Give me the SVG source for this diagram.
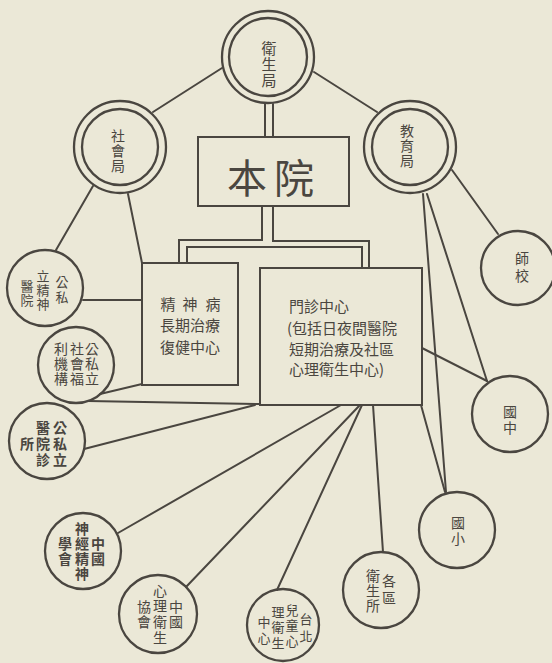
<svg xmlns="http://www.w3.org/2000/svg" width="552" height="663" viewBox="0 0 552 663">
<style>
.ln{fill:none;stroke:#4a4640;stroke-width:2;stroke-linecap:round;stroke-linejoin:miter}
.c{fill:none;stroke:#4a4640;stroke-width:2.3}
.bx{fill:none;stroke:#4a4640;stroke-width:2}
text{font-family:"Noto Sans CJK TC","Noto Sans CJK SC",sans-serif;fill:#4a4640;text-anchor:middle;dominant-baseline:central}
.s13{font-size:13px}
.s14{font-size:14px}
.s15{font-size:15px}
.b{font-weight:bold}
.lt{text-anchor:start}
</style>
<rect width="552" height="663" fill="#ebe8d7"/>
<g id="connectors">
<line class="ln" x1="153" y1="112" x2="222" y2="68"/>
<line class="ln" x1="314" y1="72" x2="377" y2="112"/>
<line class="ln" x1="265" y1="104" x2="265" y2="137"/>
<line class="ln" x1="273" y1="104" x2="273" y2="137"/>
<path class="ln" d="M262,206 V240 H179 V263"/>
<path class="ln" d="M273,206 V241 H369 V268"/>
<path class="ln" d="M187,263 V247 H362 V268"/>
<line class="ln" x1="93" y1="186" x2="56" y2="250"/>
<line class="ln" x1="128" y1="194" x2="142" y2="263"/>
<line class="ln" x1="452" y1="170" x2="498" y2="234"/>
<line class="ln" x1="423" y1="194" x2="446" y2="492"/>
<line class="ln" x1="427" y1="194" x2="487" y2="381"/>
<line class="ln" x1="422" y1="348" x2="487" y2="381"/>
<line class="ln" x1="421" y1="405" x2="445" y2="492"/>
<line class="ln" x1="83" y1="300" x2="142" y2="300"/>
<line class="ln" x1="100" y1="394" x2="142" y2="384"/>
<line class="ln" x1="88" y1="401" x2="260" y2="404"/>
<line class="ln" x1="84" y1="449" x2="255" y2="405"/>
<line class="ln" x1="118" y1="533" x2="341" y2="405"/>
<line class="ln" x1="186" y1="587" x2="360" y2="405"/>
<line class="ln" x1="277" y1="590" x2="362" y2="405"/>
<line class="ln" x1="373" y1="405" x2="383" y2="552"/>
</g>
<g id="weishengju">
<circle class="c" cx="268" cy="57" r="46"/>
<circle class="c" cx="268" cy="57" r="39"/>
<text class="s15" x="269" y="47">衛</text>
<text class="s15" x="269" y="63">生</text>
<text class="s15" x="269" y="79">局</text>
</g>
<g id="shehuiju">
<circle class="c" cx="120" cy="147" r="46"/>
<circle class="c" cx="120" cy="147" r="38"/>
<text class="s14" x="118" y="135">社</text>
<text class="s14" x="118" y="150">會</text>
<text class="s14" x="118" y="165">局</text>
</g>
<g id="jiaoyuju">
<circle class="c" cx="410" cy="147" r="46"/>
<circle class="c" cx="410" cy="147" r="38"/>
<text class="s14" x="407" y="130">教</text>
<text class="s14" x="407" y="145">育</text>
<text class="s14" x="407" y="160">局</text>
</g>
<g id="benyuan">
<rect class="bx" x="198" y="137" width="151" height="69"/>
<text x="247" y="176" font-size="40">本</text>
<text x="294" y="176" font-size="40">院</text>
</g>
<g id="rehab">
<rect class="bx" x="142" y="263" width="96" height="122"/>
<text class="s15" x="168" y="303">精</text>
<text class="s15" x="190" y="303">神</text>
<text class="s15" x="213" y="303">病</text>
<text class="s15 lt" x="160" y="324">長期治療</text>
<text class="s15 lt" x="160" y="346">復健中心</text>
</g>
<g id="clinic">
<rect class="bx" x="260" y="268" width="162" height="137"/>
<text class="s15 lt" x="289" y="305">門診中心</text>
<text class="s15 lt" x="287" y="327">(包括日夜間醫院</text>
<text class="s15 lt" x="289" y="348">短期治療及社區</text>
<text class="s15 lt" x="289" y="368">心理衛生中心)</text>
</g>
<g id="psych-hospital">
<circle class="c" cx="45" cy="288" r="38"/>
<text class="s13" x="62" y="281">公</text>
<text class="s13" x="62" y="296">私</text>
<text class="s13" x="43" y="275">立</text>
<text class="s13" x="43" y="289">精</text>
<text class="s13" x="43" y="303">神</text>
<text class="s13" x="27" y="285">醫</text>
<text class="s13" x="27" y="299">院</text>
</g>
<g id="welfare">
<circle class="c" cx="76" cy="365" r="38"/>
<text class="s14" x="92" y="348">公</text>
<text class="s14" x="92" y="363">私</text>
<text class="s14" x="92" y="378">立</text>
<text class="s14" x="77" y="348">社</text>
<text class="s14" x="77" y="363">會</text>
<text class="s14" x="77" y="378">福</text>
<text class="s14" x="61" y="348">利</text>
<text class="s14" x="61" y="363">機</text>
<text class="s14" x="61" y="378">構</text>
</g>
<g id="clinics">
<circle class="c" cx="47" cy="441" r="38"/>
<text class="s14 b" x="60" y="427">公</text>
<text class="s14 b" x="60" y="443">私</text>
<text class="s14 b" x="60" y="459">立</text>
<text class="s14 b" x="43" y="427">醫</text>
<text class="s14 b" x="43" y="443">院</text>
<text class="s14 b" x="43" y="459">診</text>
<text class="s14 b" x="27" y="443">所</text>
</g>
<g id="neuro-society">
<circle class="c" cx="83" cy="551" r="38"/>
<text class="s14 b" x="98" y="543">中</text>
<text class="s14 b" x="98" y="558">國</text>
<text class="s14 b" x="82" y="528">神</text>
<text class="s14 b" x="82" y="543">經</text>
<text class="s14 b" x="82" y="558">精</text>
<text class="s14 b" x="82" y="573">神</text>
<text class="s14 b" x="65" y="543">學</text>
<text class="s14 b" x="65" y="558">會</text>
</g>
<g id="mental-health-assoc">
<circle class="c" cx="158" cy="614" r="39"/>
<text class="s14" x="176" y="606">中</text>
<text class="s14" x="176" y="621">國</text>
<text class="s14" x="160" y="590">心</text>
<text class="s14" x="160" y="605">理</text>
<text class="s14" x="160" y="621">衛</text>
<text class="s14" x="160" y="637">生</text>
<text class="s14" x="144" y="606">協</text>
<text class="s14" x="144" y="621">會</text>
</g>
<g id="taipei-child">
<circle class="c" cx="283" cy="625" r="36"/>
<text class="s13" x="306" y="618">台</text>
<text class="s13" x="306" y="635">北</text>
<text class="s13" x="292" y="609">兒</text>
<text class="s13" x="292" y="624">童</text>
<text class="s13" x="292" y="640">心</text>
<text class="s13" x="278" y="611">理</text>
<text class="s13" x="278" y="626">衛</text>
<text class="s13" x="278" y="642">生</text>
<text class="s13" x="264" y="621">中</text>
<text class="s13" x="264" y="637">心</text>
</g>
<g id="health-stations">
<circle class="c" cx="381" cy="590" r="38"/>
<text class="s14" x="389" y="580">各</text>
<text class="s14" x="389" y="597">區</text>
<text class="s14" x="373" y="575">衛</text>
<text class="s14" x="373" y="590">生</text>
<text class="s14" x="373" y="605">所</text>
</g>
<g id="elementary">
<circle class="c" cx="457" cy="530" r="38"/>
<text class="s14" x="458" y="522">國</text>
<text class="s14" x="458" y="538">小</text>
</g>
<g id="junior-high">
<circle class="c" cx="510" cy="414" r="38"/>
<text class="s14" x="510" y="411">國</text>
<text class="s14" x="510" y="427">中</text>
</g>
<g id="normal-school">
<circle class="c" cx="518" cy="268" r="37"/>
<text class="s14" x="522" y="258">師</text>
<text class="s14" x="522" y="275">校</text>
</g>
</svg>
